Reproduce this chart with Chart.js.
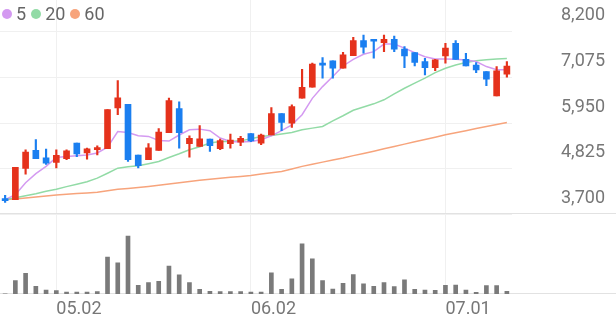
<!DOCTYPE html>
<html>
<head>
<meta charset="utf-8">
<script src="https://cdn.jsdelivr.net/npm/chart.js@4/dist/chart.umd.min.js"></script>
<style>
  body { margin: 0; background: #fff; }
  #wrap { position: relative; width: 616px; height: 321px; }
  #legend { position: absolute; left: 2px; top: 4px; display: flex; font: 18px Roboto, sans-serif; color: #666; line-height: 20px; }
  #legend .item { display: flex; align-items: center; margin-right: 5px; }
  #legend i { display: block; width: 10px; height: 10px; border-radius: 50%; margin-right: 4px; }
</style>
</head>
<body>
<div id="wrap"><canvas id="chart"></canvas><div id="legend"></div></div>
<script>
'use strict';
const dates = ['04.24', '04.25', '04.28', '04.29', '04.30', '05.02', '05.07', '05.08', '05.09', '05.12',
    '05.13', '05.14', '05.15', '05.16', '05.19', '05.20', '05.21', '05.22', '05.23', '05.26',
    '05.27', '05.28', '05.29', '05.30', '06.02', '06.04', '06.05', '06.09', '06.10', '06.11',
    '06.12', '06.13', '06.16', '06.17', '06.18', '06.19', '06.20', '06.23', '06.24', '06.25',
    '06.26', '06.27', '06.30', '07.01', '07.02', '07.03', '07.04', '07.07', '07.08', '07.09'];
const xTicks = ['05.02', '06.02', '07.01'];
const priceTicks = [3700, 4825, 5950, 7075, 8200];

const opens = [4075, 4060, 4830, 5275, 5090, 4975, 5070, 5455, 5210, 5290,
    5315, 6325, 6415, 5160, 5045, 5275, 5715, 6310, 5440, 5370,
    5555, 5315, 5440, 5480, 5690, 5455, 5655, 6185, 5950, 6565,
    6835, 7420, 7485, 7305, 7615, 7985, 8005, 7935, 8020, 7775,
    7690, 7470, 7320, 7610, 7920, 7525, 7385, 7220, 6620, 7155];
const highs = [4165, 4855, 5290, 5540, 5310, 5290, 5290, 5455, 5330, 5390,
    6285, 7000, 6415, 5160, 5440, 5815, 6565, 6475, 5635, 5890,
    5555, 5555, 5680, 5620, 5690, 5680, 6335, 6185, 6400, 7280,
    7430, 7565, 7485, 7700, 8070, 8125, 8005, 8125, 8100, 7840,
    7690, 7550, 7525, 7920, 7985, 7675, 7445, 7220, 7345, 7470];
const lows = [3990, 4060, 4690, 5070, 4930, 4840, 5045, 5120, 5060, 5165,
    5315, 6155, 5000, 4840, 5045, 5275, 5715, 5330, 5110, 5370,
    5250, 5290, 5330, 5390, 5490, 5415, 5655, 5765, 5840, 6565,
    6835, 7060, 7060, 7305, 7615, 7675, 7550, 7715, 7715, 7320,
    7360, 7140, 7245, 7430, 7525, 7360, 7195, 6875, 6620, 7085];
const closes = [4035, 4855, 5235, 5070, 4960, 5150, 5265, 5190, 5315, 5345,
    6285, 6575, 5045, 4895, 5340, 5725, 6505, 5715, 5570, 5560,
    5390, 5520, 5530, 5570, 5510, 5655, 6185, 5965, 6360, 6835,
    7405, 7380, 7305, 7635, 7985, 7825, 7970, 8020, 7775, 7610,
    7445, 7320, 7510, 7800, 7525, 7360, 7265, 7035, 7240, 7360];

const ma5 = [4060, 4180, 4475, 4700, 4880, 5100, 5125, 5140, 5160, 5210,
    5355, 5740, 5715, 5635, 5620, 5520, 5505, 5655, 5785, 5800,
    5760, 5580, 5495, 5480, 5495, 5540, 5635, 5765, 5905, 6155,
    6560, 6850, 7100, 7360, 7525, 7650, 7715, 7900, 7900, 7800,
    7690, 7590, 7535, 7535, 7525, 7510, 7470, 7345, 7265, 7265];
const ma20 = [4060, 4105, 4155, 4205, 4265, 4315, 4380, 4440, 4500, 4590,
    4710, 4835, 4870, 4895, 4945, 5000, 5100, 5190, 5290, 5365,
    5455, 5495, 5495, 5510, 5560, 5620, 5645, 5680, 5715, 5785,
    5825, 5865, 6005, 6130, 6265, 6345, 6425, 6525, 6670, 6810,
    6935, 7060, 7195, 7305, 7385, 7445, 7490, 7515, 7535, 7545];
const ma60 = [4060, 4075, 4100, 4125, 4150, 4175, 4190, 4210, 4225, 4240,
    4280, 4315, 4335, 4360, 4385, 4415, 4445, 4475, 4505, 4535,
    4560, 4585, 4610, 4630, 4655, 4690, 4725, 4755, 4815, 4880,
    4935, 4985, 5035, 5085, 5145, 5200, 5255, 5315, 5370, 5430,
    5490, 5545, 5600, 5660, 5710, 5760, 5815, 5865, 5915, 5965];
// volume, thousand shares
const volumes = [2, 133, 207, 77, 40, 33, 20, 20, 20, 23,
    367, 310, 577, 87, 113, 127, 277, 190, 113, 47,
    27, 23, 23, 23, 20, 20, 210, 47, 150, 500,
    350, 133, 50, 107, 193, 100, 77, 113, 73, 140,
    47, 40, 37, 87, 90, 40, 17, 83, 83, 27];

const UP = '#e5321c';
const DOWN = '#1b7ff0';
const candleColor = ctx => closes[ctx.dataIndex] >= opens[ctx.dataIndex] ? UP : DOWN;
const tickFont = { family: 'Roboto', size: 18 };

// full width separators under the price panel and the volume panel
const panelLines = {
    id: 'panelLines',
    beforeDatasetsDraw(chart) {
        const { ctx, width, scales: { y, yv } } = chart;
        ctx.save();
        ctx.strokeStyle = '#e2e2e2';
        ctx.lineWidth = 1;
        [y.bottom, yv.bottom].forEach(py => {
            const yy = Math.round(py) - 0.5;
            ctx.beginPath();
            ctx.moveTo(0, yy);
            ctx.lineTo(width, yy);
            ctx.stroke();
        });
        ctx.restore();
    }
};

const maLine = (label, data, color) => ({
    type: 'line',
    label: label,
    data: data,
    yAxisID: 'y',
    borderColor: color,
    backgroundColor: color,
    borderWidth: 1.5,
    pointRadius: 0,
    tension: 0,
    order: 1
});

const chart = new Chart(document.querySelector('#chart'), {
    type: 'bar',
    data: {
        labels: dates,
        datasets: [
            {
                label: 'wick',
                data: dates.map((d, i) => [lows[i], highs[i]]),
                yAxisID: 'y',
                grouped: false,
                barThickness: 1.5,
                backgroundColor: candleColor,
                order: 0
            },
            {
                label: 'body',
                data: dates.map((d, i) => [opens[i], closes[i]]),
                yAxisID: 'y',
                grouped: false,
                barThickness: 6,
                minBarLength: 2,
                backgroundColor: candleColor,
                order: 0
            },
            maLine('5', ma5, '#d49af1'),
            maLine('20', ma20, '#92dba6'),
            maLine('60', ma60, '#f7a47c'),
            {
                label: 'volume',
                data: volumes,
                yAxisID: 'yv',
                grouped: false,
                barThickness: 4,
                backgroundColor: '#7a7a7a',
                order: 2
            }
        ]
    },
    options: {
        responsive: true,
        maintainAspectRatio: false,
        animation: false,
        events: [],
        layout: { padding: 0 },
        plugins: {
            legend: { display: false },
            tooltip: { enabled: false }
        },
        scales: {
            x: {
                offset: true,
                grid: { offset: false, color: '#f0f0f0', drawTicks: false },
                border: { display: false },
                ticks: { autoSkip: false, maxRotation: 0, align: 'start', padding: 5, color: '#777', font: tickFont },
                afterBuildTicks: s => { s.ticks = s.ticks.filter(t => xTicks.includes(dates[t.value])); },
                afterFit: s => { s.height = 27; s.paddingLeft = 0; s.paddingRight = 0; }
            },
            y: {
                position: 'right',
                stack: 'panels',
                stackWeight: 214.5,
                min: 3700,
                max: 8990,
                afterBuildTicks: s => { s.ticks = priceTicks.map(v => ({ value: v })); },
                grid: { color: '#f0f0f0', drawTicks: false },
                border: { display: false },
                ticks: {
                    padding: 49,
                    crossAlign: 'near',
                    labelOffset: -16,
                    color: '#777',
                    font: tickFont,
                    callback: v => v.toLocaleString('en-US')
                },
                afterFit: s => { s.width = 104; s.paddingTop = 0; s.paddingBottom = 0; }
            },
            yv: {
                position: 'right',
                stack: 'panels',
                stackWeight: 80,
                min: 0,
                max: 795,
                grid: { display: false },
                border: { display: false },
                ticks: { display: false },
                afterFit: s => { s.width = 104; s.paddingTop = 0; s.paddingBottom = 0; }
            }
        }
    },
    plugins: [panelLines]
});

// legend for the moving averages
document.querySelector('#legend').innerHTML = chart.data.datasets
    .filter(ds => ds.type === 'line')
    .map(ds => `<span class="item"><i style="background:${ds.borderColor}"></i>${ds.label}</span>`)
    .join('');
</script>
</body>
</html>
